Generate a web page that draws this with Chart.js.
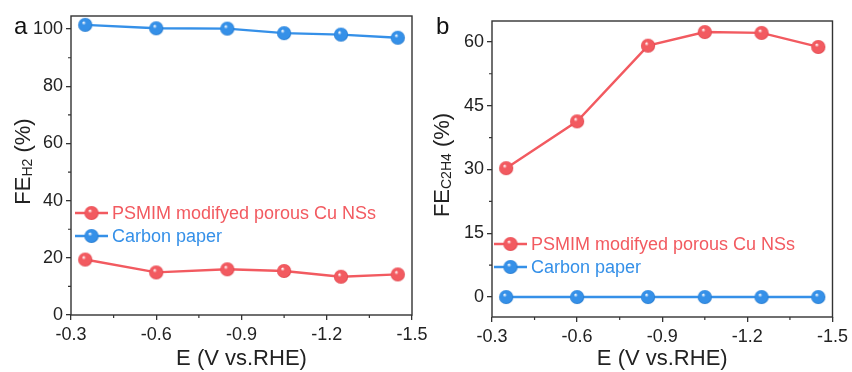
<!DOCTYPE html>
<html>
<head>
<meta charset="utf-8">
<script src="https://cdn.jsdelivr.net/npm/chart.js@4"></script>
<style>
  html, body { margin: 0; padding: 0; background: #fff; }
  #wrap { position: relative; width: 852px; height: 372px; }
  #wrap canvas { position: absolute; left: 0; top: 0; }
</style>
</head>
<body>
<div id="wrap">
  <canvas id="chartA" width="852" height="372"></canvas>
  <canvas id="chartB" width="852" height="372"></canvas>
</div>
<script>
// data
const potentials = [-0.35, -0.6, -0.85, -1.05, -1.25, -1.45];
const h2Cu = [19.4, 14.9, 16.0, 15.4, 13.4, 14.2];
const h2Carbon = [101.5, 100.3, 100.2, 98.6, 98.1, 97.0];
const c2h4Cu = [30.3, 41.3, 59.1, 62.3, 62.1, 58.8];
const c2h4Carbon = [0, 0, 0, 0, 0, 0];
const seriesNames = ['PSMIM modifyed porous Cu NSs', 'Carbon paper'];
const xTicks = [-0.3, -0.6, -0.9, -1.2, -1.5];
const yTicksA = [0, 20, 40, 60, 80, 100];
const yTicksB = [0, 15, 30, 45, 60];

const FONT = '"Liberation Sans", Arial, sans-serif';
const RED = '#f25a60';
const BLUE = '#3590e8';
const INK = '#222';

function sphere(color, dark) {
  const c = document.createElement('canvas');
  c.width = c.height = 16;
  const g = c.getContext('2d');
  const grad = g.createRadialGradient(6.3, 5.6, 0.3, 8, 8, 7.4);
  grad.addColorStop(0, '#ffffff');
  grad.addColorStop(0.25, color);
  grad.addColorStop(0.8, color);
  grad.addColorStop(1, dark);
  g.fillStyle = grad;
  g.beginPath();
  g.arc(8, 8, 7.1, 0, Math.PI * 2);
  g.fill();
  return c;
}
const redBall = sphere(RED, '#d83e46');
const blueBall = sphere(BLUE, '#1d71c4');

function pts(ys) {
  return potentials.map((x, i) => ({ x: x, y: ys[i] }));
}

function mids(arr) {
  const out = [];
  for (let i = 0; i < arr.length - 1; i++) out.push((arr[i] + arr[i + 1]) / 2);
  return out;
}

// frame, minor ticks, y title, panel letter, in-plot legend
const decor = {
  id: 'decor',
  afterDraw(chart, args, o) {
    const ctx = chart.ctx;
    const a = chart.chartArea;
    const xs = chart.scales.x, ys = chart.scales.y;
    ctx.save();
    ctx.strokeStyle = '#333';
    ctx.lineWidth = 1.4;
    ctx.strokeRect(a.left, a.top, a.right - a.left, a.bottom - a.top);

    ctx.lineWidth = 1.2;
    ctx.beginPath();
    mids(xTicks).forEach(v => {
      const px = xs.getPixelForValue(v);
      ctx.moveTo(px, a.bottom);
      ctx.lineTo(px, a.bottom + 3);
    });
    mids(o.yTicks).forEach(v => {
      const py = ys.getPixelForValue(v);
      ctx.moveTo(a.left, py);
      ctx.lineTo(a.left - 3, py);
    });
    ctx.stroke();

    // rotated y title with subscript
    ctx.save();
    ctx.translate(o.titleX, (a.top + a.bottom) / 2 - 4);
    ctx.rotate(-Math.PI / 2);
    ctx.fillStyle = INK;
    ctx.textBaseline = 'middle';
    const big = '22px ' + FONT, small = '14px ' + FONT;
    ctx.font = big; const w1 = ctx.measureText('FE').width;
    ctx.font = small; const w2 = ctx.measureText(o.sub).width;
    ctx.font = big; const w3 = ctx.measureText(' (%)').width;
    let x = -(w1 + w2 + w3) / 2;
    ctx.font = big; ctx.textAlign = 'left';
    ctx.fillText('FE', x, 0); x += w1;
    ctx.font = small; ctx.fillText(o.sub, x, 4); x += w2;
    ctx.font = big; ctx.fillText(' (%)', x, 0);
    ctx.restore();

    ctx.fillStyle = '#111';
    ctx.font = '24px ' + FONT;
    ctx.textAlign = 'left';
    ctx.textBaseline = 'alphabetic';
    ctx.fillText(o.letter, o.letterX, o.letterY);

    ctx.font = '18px ' + FONT;
    ctx.textBaseline = 'middle';
    chart.data.datasets.forEach((ds, i) => {
      const y = o.legY[i];
      ctx.strokeStyle = ds.borderColor;
      ctx.lineWidth = 2.4;
      ctx.beginPath();
      ctx.moveTo(o.legX, y);
      ctx.lineTo(o.legX + 33, y);
      ctx.stroke();
      const img = ds.pointStyle;
      ctx.drawImage(img, o.legX + 16.5 - img.width / 2, y - img.height / 2);
      ctx.fillStyle = ds.borderColor;
      ctx.fillText(ds.label, o.legX + 37, y + 1);
    });
    ctx.restore();
  }
};

function makeChart(id, p) {
  new Chart(document.getElementById(id), {
    type: 'line',
    data: {
      datasets: [
        { label: seriesNames[0], data: pts(p.cu), borderColor: RED, borderWidth: 2.4,
          pointStyle: redBall, pointRadius: 7 },
        { label: seriesNames[1], data: pts(p.carbon), borderColor: BLUE, borderWidth: 2.4,
          pointStyle: blueBall, pointRadius: 7 }
      ]
    },
    options: {
      responsive: false,
      animation: false,
      layout: { padding: p.pad },
      plugins: {
        legend: { display: false },
        tooltip: { enabled: false },
        decor: p.decor
      },
      scales: {
        x: {
          type: 'linear',
          min: -1.5, max: -0.3,
          reverse: true,
          afterBuildTicks: s => { s.ticks = xTicks.map(v => ({ value: v })); },
          afterFit: s => { s.height = p.xH; },
          grid: { drawOnChartArea: false, tickLength: 5, color: '#333', lineWidth: 1.3 },
          border: { display: false },
          ticks: { font: { family: FONT, size: 18 }, color: INK, padding: 4,
                   maxRotation: 0, callback: v => v.toFixed(1) },
          title: { display: true, text: 'E (V vs.RHE)', font: { family: FONT, size: 22 },
                   color: INK, padding: { top: 0, bottom: 0 } }
        },
        y: {
          min: p.yMin, max: p.yMax,
          afterBuildTicks: s => { s.ticks = p.yTicks.map(v => ({ value: v })); },
          afterFit: s => { s.width = p.yW; },
          grid: { drawOnChartArea: false, tickLength: 5, color: '#333', lineWidth: 1.3 },
          border: { display: false },
          ticks: { font: { family: FONT, size: 18 }, color: INK, padding: 3 }
        }
      }
    },
    plugins: [decor]
  });
}

makeChart('chartA', {
  cu: h2Cu, carbon: h2Carbon,
  yMin: 0, yMax: 104.6, yTicks: yTicksA,
  pad: { left: 0, top: 16, right: 440, bottom: 0 },
  yW: 71, xH: 57,
  decor: { yTicks: yTicksA, sub: 'H2', titleX: 24, letter: 'a', letterX: 14, letterY: 34,
           legX: 75, legY: [213, 236] }
});

makeChart('chartB', {
  cu: c2h4Cu, carbon: c2h4Carbon,
  yMin: -4.7, yMax: 64.9, yTicks: yTicksB,
  pad: { left: 426, top: 21, right: 19, bottom: 0 },
  yW: 66, xH: 55,
  decor: { yTicks: yTicksB, sub: 'C2H4', titleX: 443, letter: 'b', letterX: 436, letterY: 34,
           legX: 494, legY: [244, 267] }
});
</script>
</body>
</html>
